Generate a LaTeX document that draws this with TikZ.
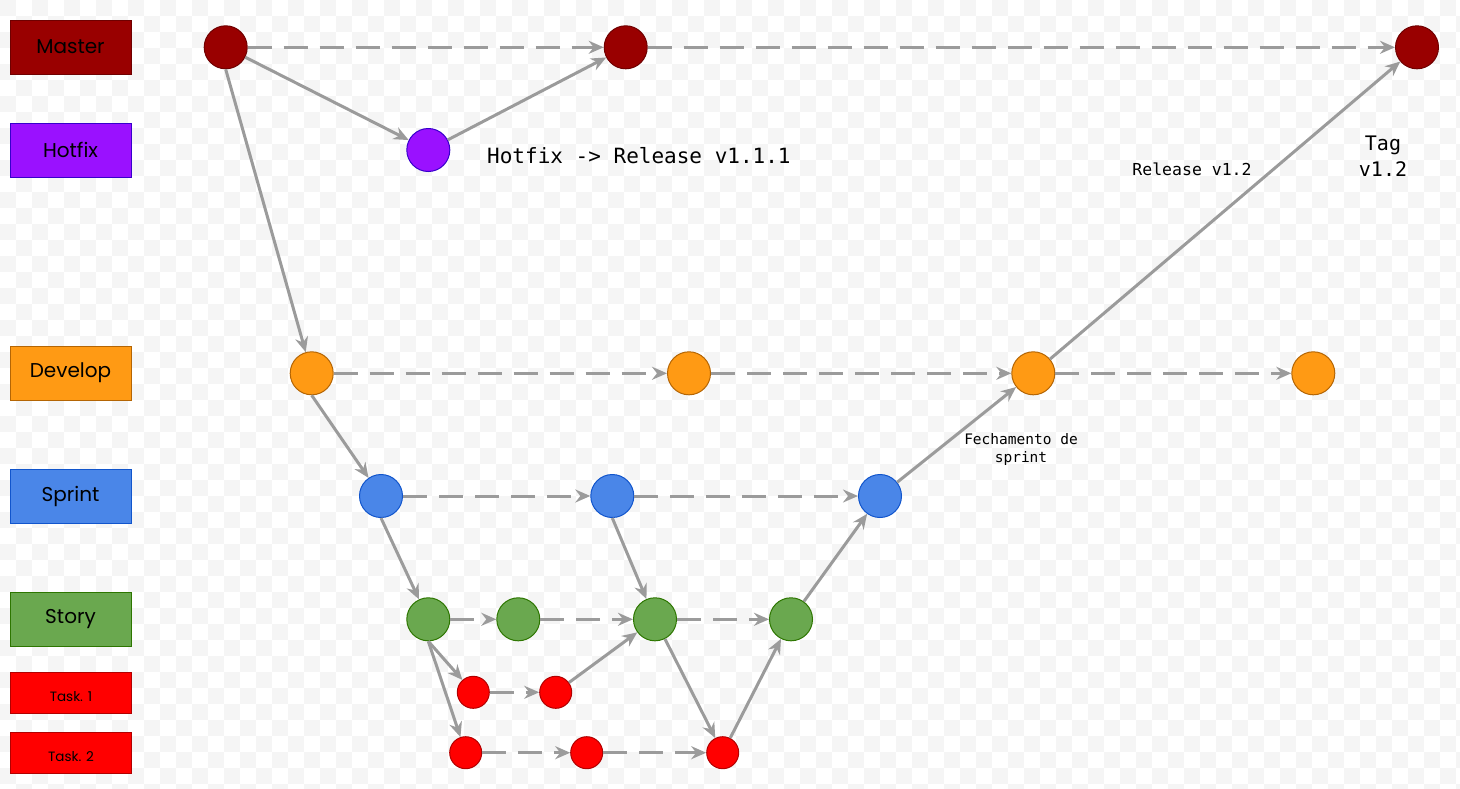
\documentclass[tikz,border=0pt]{standalone}
\usepackage{fontspec}
\setmainfont{Poppins}
\newfontfamily\monofont{DejaVu Sans Mono}
\usetikzlibrary{arrows.meta}
\definecolor{masterF}{HTML}{990000}\definecolor{masterD}{HTML}{6F0000}
\definecolor{hotF}{HTML}{9A11FF}\definecolor{hotD}{HTML}{3700CC}
\definecolor{devF}{HTML}{FF9A14}\definecolor{devD}{HTML}{B46504}
\definecolor{sprF}{HTML}{4A86E8}\definecolor{sprD}{HTML}{1155CC}
\definecolor{stoF}{HTML}{6AA84F}\definecolor{stoD}{HTML}{2D7600}
\definecolor{tskF}{HTML}{FF0000}\definecolor{tskD}{HTML}{B20000}
\definecolor{edge}{HTML}{9B9B9B}
\definecolor{checker}{HTML}{F5F5F5}
\tikzset{
  commit/.style={circle, minimum size=43pt, inner sep=0pt, line width=1pt},
  small/.style={circle, minimum size=32pt, inner sep=0pt, line width=1pt},
  legend/.style={rectangle, minimum width=121pt, inner sep=0pt, line width=1pt, font=\fontsize{20}{22}\selectfont},
  ms/.style={fill=masterF, draw=masterD},
  hf/.style={fill=hotF, draw=hotD},
  dv/.style={fill=devF, draw=devD},
  sp/.style={fill=sprF, draw=sprD},
  st/.style={fill=stoF, draw=stoD},
  tk/.style={fill=tskF, draw=tskD},
  link/.style={draw=edge, line width=3pt, -{Stealth[length=15pt,width=13pt,inset=5pt]}},
  flow/.style={link, dash pattern=on 24pt off 12pt},
  lbl/.style={font=\monofont, align=center, inner sep=0pt}
}
\begin{document}
\begin{tikzpicture}[x=1pt, y=-1pt]
\useasboundingbox (0,0) rectangle (1460,788);
\fill[white] (0,0) rectangle (1460,788);
\foreach \j in {0,...,49}{
  \pgfmathtruncatemacro\off{mod(\j,2)*16}
  \foreach \i in {0,2,...,90}{
    \fill[checker] (\i*16+\off, \j*16) rectangle ++(16,16);
  }
}
% legend
\node[legend, ms, minimum height=54pt] (lm) at (70.5,47) {Master};
\node[legend, hf, minimum height=54pt] (lh) at (70.5,150) {Hotfix};
\node[legend, dv, minimum height=54pt] (ld) at (70.5,373) {Develop};
\node[legend, sp, minimum height=54pt] (ls) at (70.5,496) {Sprint};
\node[legend, st, minimum height=54pt] (lst) at (70.5,619) {Story};
\node[legend, tk, minimum height=41pt] (lt1) at (70.5,692.5) {};
\node[legend, tk, minimum height=41pt] (lt2) at (70.5,752.5) {};
\node[font=\fontsize{13.5}{15}\selectfont, inner sep=0pt] (lt1t) at (71,697) {Task. 1};
\node[font=\fontsize{13.5}{15}\selectfont, inner sep=0pt] (lt2t) at (71,757) {Task. 2};
% commits
\node[commit, ms] (m1) at (225.7,47.3) {};
\node[commit, ms] (m2) at (625.7,47.3) {};
\node[commit, ms] (m3) at (1417,47.3) {};
\node[commit, hf] (h1) at (428.3,150) {};
\node[commit, dv] (d1) at (311.7,373.3) {};
\node[commit, dv] (d2) at (689,373.3) {};
\node[commit, dv] (d3) at (1033.3,373.3) {};
\node[commit, dv] (d4) at (1313.3,373.3) {};
\node[commit, sp] (s1) at (381,496) {};
\node[commit, sp] (s2) at (612.3,496) {};
\node[commit, sp] (s3) at (880,496) {};
\node[commit, st] (y1) at (428.3,619.3) {};
\node[commit, st] (y2) at (518.3,619.3) {};
\node[commit, st] (y3) at (655,619.3) {};
\node[commit, st] (y4) at (791,619.3) {};
\node[small, tk] (a1) at (473.3,692.3) {};
\node[small, tk] (a2) at (555.7,692.3) {};
\node[small, tk] (b1) at (465.7,752.7) {};
\node[small, tk] (b2) at (586.7,752.7) {};
\node[small, tk] (b3) at (722.7,752.7) {};
% labels
\node[lbl, anchor=west, font=\monofont\fontsize{21}{24}\selectfont] (t1) at (487,156) {Hotfix -> Release v1.1.1};
\node[lbl, font=\monofont\fontsize{16.5}{19}\selectfont] (t2) at (1192,169) {Release v1.2};
\node[lbl, font=\monofont\fontsize{20}{26}\selectfont] (t3) at (1383,156) {Tag\\v1.2};
\node[lbl, font=\monofont\fontsize{14.5}{18}\selectfont] (t4) at (1021,449) {Fechamento de\\sprint};
% master / hotfix
\draw[flow] (m1) -- (m2);
\draw[flow] (m2) -- (m3);
\draw[link] (m1) -- (h1);
\draw[link] (h1) -- (m2);
\draw[link] (m1.south) -- (d1);
% develop
\draw[flow] (d1) -- (d2);
\draw[flow] (d2) -- (d3);
\draw[flow] (d3) -- (d4);
\draw[link] (d3) -- (m3);
\draw[link] (d1.south) -- (s1);
% sprint
\draw[flow] (s1) -- (s2);
\draw[flow] (s2) -- (s3);
\draw[link] (s3) -- (d3);
\draw[link] (s1.south) -- (y1);
\draw[link] (s2.south) -- (y3);
% story
\draw[flow] (y1) -- (y2);
\draw[flow] (y2) -- (y3);
\draw[flow] (y3) -- (y4);
\draw[link] (y4) -- (s3);
\draw[link] (y1.south) -- (a1);
\draw[link] (y1.south) -- (b1);
% tasks
\draw[flow] (a1) -- (a2);
\draw[link] (a2) -- (y3);
\draw[flow] (b1) -- (b2);
\draw[flow] (b2) -- (b3);
\draw[link] (y3) -- (b3);
\draw[link] (b3) -- (y4);
\end{tikzpicture}
\end{document}
